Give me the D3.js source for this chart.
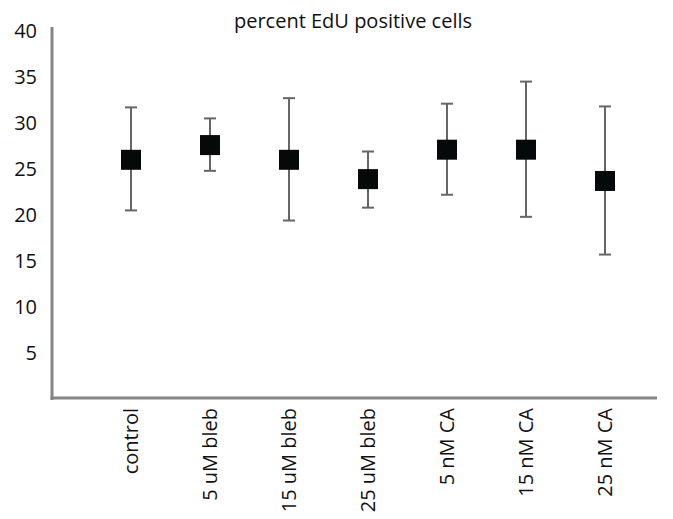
<!DOCTYPE html>
<html>
<head>
<meta charset="utf-8">
<script src="https://cdn.jsdelivr.net/npm/d3@7"></script>
<style>
  body { margin: 0; background: #fff; }
  svg { display: block; }
  text { font-family: "Open Sans", sans-serif; fill: #111; }
</style>
</head>
<body>
<svg id="chart" width="673" height="519"></svg>
<script>
const categories = ["control", "5 uM bleb", "15 uM bleb", "25 uM bleb", "5 nM CA", "15 nM CA", "25 nM CA"];
const means = [26.0, 27.6, 26.0, 23.9, 27.1, 27.1, 23.7];
const upper = [31.7, 30.5, 32.7, 26.9, 32.1, 34.5, 31.8];
const lower = [20.5, 24.8, 19.4, 20.8, 22.2, 19.8, 15.7];
const yTicks = [5, 10, 15, 20, 25, 30, 35, 40];
const title = "percent EdU positive cells";

const svg = d3.select("#chart");
const axisX = 52, axisBottom = 399, axisTop = 27, axisRight = 657;
const step = 79;

const y = d3.scaleLinear().domain([0, 40]).range([axisBottom, 31]);
const x = d3.scalePoint().domain(categories).range([axisX + step, axisX + step * 7]);

const data = categories.map((c, i) => ({ c, m: means[i], hi: upper[i], lo: lower[i] }));

// title
svg.append("text").attr("x", 353).attr("y", 28).attr("text-anchor", "middle")
  .style("font-size", "20px").text(title);

// y tick labels
svg.append("g").selectAll("text").data(yTicks).join("text")
  .attr("x", 37).attr("y", d => y(d)).attr("dy", "0.35em")
  .attr("text-anchor", "end").style("font-size", "20px")
  .text(d => d);

// axes lines
svg.append("line").attr("x1", axisX).attr("x2", axisX).attr("y1", axisTop).attr("y2", axisBottom + 1)
  .attr("stroke", "#858585").attr("stroke-width", 3);
svg.append("line").attr("x1", axisX - 1.5).attr("x2", axisRight).attr("y1", axisBottom - 1).attr("y2", axisBottom - 1)
  .attr("stroke", "#858585").attr("stroke-width", 3);

// x labels
svg.append("g").selectAll("text").data(categories).join("text")
  .attr("transform", d => `translate(${x(d)},408) rotate(-90)`)
  .attr("dy", "0.35em").attr("text-anchor", "end").style("font-size", "20px")
  .text(d => d);

// error bars
const eg = svg.append("g").attr("stroke", "#666").attr("stroke-width", 2);
eg.selectAll(".v").data(data).join("line")
  .attr("x1", d => x(d.c)).attr("x2", d => x(d.c))
  .attr("y1", d => y(d.hi)).attr("y2", d => y(d.lo));
eg.selectAll(".t").data(data).join("line")
  .attr("x1", d => x(d.c) - 6).attr("x2", d => x(d.c) + 6)
  .attr("y1", d => y(d.hi)).attr("y2", d => y(d.hi));
eg.selectAll(".b").data(data).join("line")
  .attr("x1", d => x(d.c) - 6).attr("x2", d => x(d.c) + 6)
  .attr("y1", d => y(d.lo)).attr("y2", d => y(d.lo));

// markers
svg.append("g").selectAll("rect").data(data).join("rect")
  .attr("x", d => x(d.c) - 10).attr("y", d => y(d.m) - 10)
  .attr("width", 20).attr("height", 20)
  .attr("fill", "#050909");
</script>
</body>
</html>
